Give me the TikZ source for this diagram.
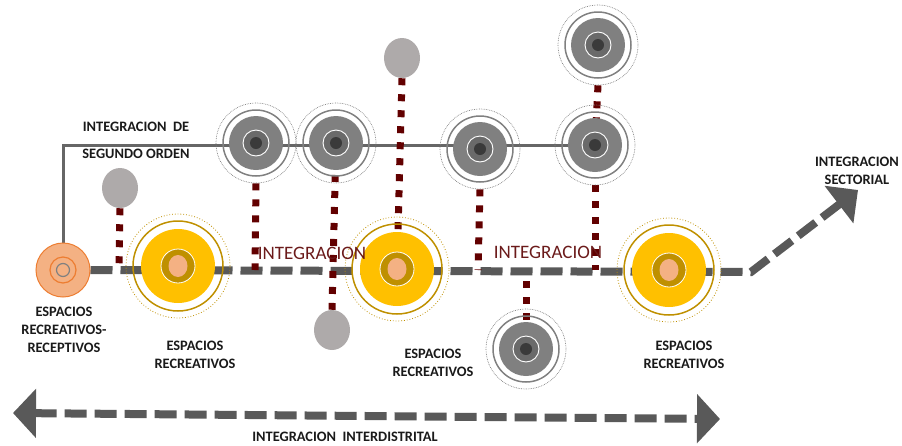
\documentclass[tikz,border=0pt]{standalone}
\usepackage{fontspec}
\setmainfont{Carlito}
\usetikzlibrary{arrows.meta,shapes.geometric}
\pgfdeclarelayer{background}
\pgfsetlayers{background,main}
\definecolor{linegray}{HTML}{595959}
\definecolor{ordergray}{HTML}{666666}
\definecolor{diskgray}{HTML}{808080}
\definecolor{midgray}{HTML}{6A6A6A}
\definecolor{coregray}{HTML}{3A3A3A}
\definecolor{ellgray}{HTML}{AEAAAA}
\definecolor{sunyellow}{HTML}{FFC000}
\definecolor{gold}{HTML}{BF9000}
\definecolor{peach}{HTML}{F4B183}
\definecolor{orangeline}{HTML}{ED7D31}
\definecolor{linkred}{HTML}{620000}
\definecolor{textred}{HTML}{6B1A1A}
\definecolor{textblack}{HTML}{1A1A1A}

\begin{document}
\begin{tikzpicture}[x=1pt,y=-1pt,line width=.5pt,
  mainline/.style={draw=linegray,line width=8pt,dash pattern=on 22pt off 8pt},
  orderline/.style={draw=ordergray,line width=3pt},
  linkline/.style={draw=linkred,line width=7pt,dash pattern=on 7pt off 9pt},
  lbl/.style={inner sep=0pt,align=center,text=textblack,font=\fontsize{14.4}{18}\selectfont\bfseries},
  redlbl/.style={inner sep=0pt,text=textred,font=\fontsize{19}{22}\selectfont},
  grayunit/.style={circle,minimum size=80pt,inner sep=0pt,draw=diskgray,densely dotted,line width=.7pt,
    path picture={
      \coordinate (c) at (path picture bounding box.center);
      \draw[solid,draw=diskgray,line width=1.5pt] (c) circle (33pt);
      \fill[diskgray] (c) circle (27pt);
      \fill[midgray] (c) circle (12.5pt);
      \draw[solid,white,line width=.9pt] (c) circle (13pt);
      \fill[coregray] (c) circle (6pt);}},
  yellowunit/.style={circle,minimum size=104pt,inner sep=0pt,draw=gold,dotted,line width=.8pt,
    path picture={
      \coordinate (c) at (path picture bounding box.center);
      \draw[solid,draw=gold,line width=1.5pt] (c) circle (45pt);
      \fill[sunyellow] (c) circle (37pt);
      \fill[gold] (c) circle (17pt);
      \draw[solid,white,line width=.8pt] (c) circle (17pt);
      \fill[peach] (c) ellipse (9.5pt and 11pt);}},
  orangeunit/.style={circle,minimum size=54pt,inner sep=0pt,fill=peach,draw=orangeline,line width=1pt,
    path picture={
      \coordinate (c) at (path picture bounding box.center);
      \draw[orangeline,line width=1.2pt] (c) circle (13pt);
      \draw[diskgray,line width=1.2pt] (c) circle (6.5pt);}},
  blob/.style={ellipse,minimum width=36pt,minimum height=40pt,inner sep=0pt,fill=ellgray}]
\path[use as bounding box] (0,0) rectangle (902,445);

% nodes on the main line
\node[orangeunit] (o1) at (63,270) {};
\node[yellowunit] (y1) at (178,266) {};
\node[yellowunit] (y2) at (397,269) {};
\node[yellowunit] (y3) at (669,270) {};

% second order nodes
\node[grayunit] (g1) at (256,143) {};
\node[grayunit] (g2) at (336,143) {};
\node[grayunit] (g3) at (480,149) {};
\node[grayunit] (g4) at (595,145) {};
\node[grayunit] (g5) at (598,45) {};
\node[grayunit] (g6) at (526,349) {};

\node[blob] (e1) at (120,188) {};
\node[blob] (e2) at (402,58) {};
\node[blob] (e3) at (332,330) {};

% free ends on the main line
\coordinate (mend) at (751,272);
\coordinate (sectip) at (858,190);
\coordinate (m1) at (119,270);
\coordinate (m2) at (255,270);
\coordinate (m5) at (478,270);
\coordinate (m7) at (595,270);
\coordinate (m8) at (526,281);
\coordinate (ltip) at (13,413);
\coordinate (rtip) at (720,419);

\begin{pgfonlayer}{background}
\draw[mainline,-{Triangle[length=24pt,width=46pt]}] (o1) -- (mend) -- (sectip);
\draw[orderline] (o1.north) |- (g4.center);
\draw[linkline] (e1.south) -- (m1);
\draw[linkline] (g1.south) -- (m2);
\draw[linkline] (g2.center) -- (e3.north);
\draw[linkline] (e2.south) -- (y2.center);
\draw[linkline] (g3.south) -- (m5);
\draw[linkline] (g5.south) -- (g4.center);
\draw[linkline] (g4.south) -- (m7);
\draw[linkline] (m8) -- (g6.center);
\end{pgfonlayer}

\draw[mainline,{Triangle[length=23pt,width=48pt]}-{Triangle[length=23pt,width=48pt]}] (ltip) -- (rtip);

% labels
\node[lbl] (t2a) at (136,127) {INTEGRACION \ DE};
\node[lbl] (t2b) at (136,154) {SEGUNDO ORDEN};
\node[redlbl] (r1) at (312,253) {INTEGRACION};
\node[redlbl] (r2) at (548,252) {INTEGRACION};
\node[lbl] (l0) at (64,330) {ESPACIOS\\RECREATIVOS-\\RECEPTIVOS};
\node[lbl] (l1) at (195,355) {ESPACIOS\\RECREATIVOS};
\node[lbl] (l2) at (433,363) {ESPACIOS\\RECREATIVOS};
\node[lbl] (l3) at (684,355) {ESPACIOS\\RECREATIVOS};
\node[lbl] (ls) at (857,171) {INTEGRACION\\SECTORIAL};
\node[lbl] (li) at (345,437) {INTEGRACION \ INTERDISTRITAL};
\end{tikzpicture}
\end{document}
